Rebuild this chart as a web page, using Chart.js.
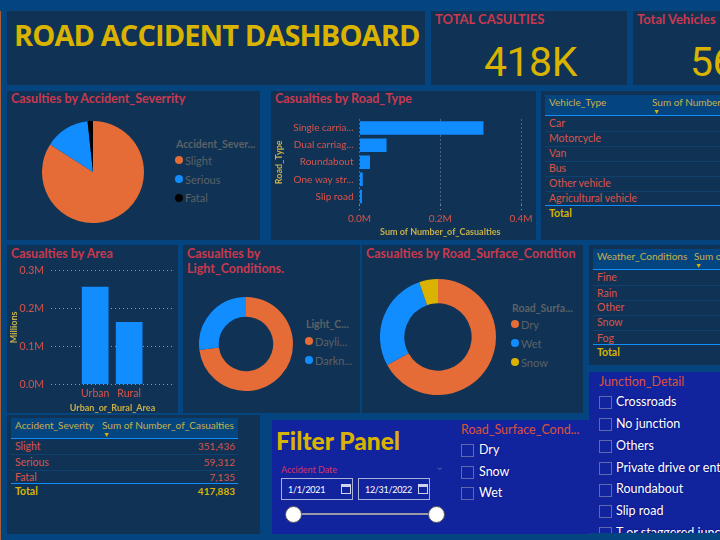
<!DOCTYPE html>
<html>
<head>
<meta charset="utf-8">
<script src="https://cdn.jsdelivr.net/npm/chart.js@4"></script>
<style>
  html, body { margin: 0; padding: 0; }
  body { width: 720px; height: 540px; overflow: hidden; position: relative; background: #05457f; font-family: Lato, sans-serif; }
  .panel { position: absolute; background: #103355; overflow: hidden; }
  .blue { background: #12239e; }
  .txt { position: absolute; white-space: nowrap; line-height: 1; }
  .head { font-weight: 700; color: #c8394f; }
  canvas { position: absolute; }
  .dot { position: absolute; width: 8px; height: 8px; border-radius: 50%; }
  .line { position: absolute; height: 1px; }
  .box { position: absolute; width: 11px; height: 11px; border: 1px solid #5f69ab; }
  .slicer { color: #fff; text-shadow: 0 0 2px #000a70; }
</style>
</head>
<body>
<script>
const severityLabels = ["Slight", "Serious", "Fatal"];
const severityValues = [351436, 59312, 7135];
const severityText = ["351,436", "59,312", "7,135"];
const severityTotal = "417,883";

const roadLabels = ["Single carria...", "Dual carriag...", "Roundabout", "One way str...", "Slip road"];
const roadValues = [0.307, 0.067, 0.026, 0.008, 0.006];
const roadTicks = { 0: "0.0M", 0.2: "0.2M", 0.4: "0.4M" };

const areaLabels = ["Urban", "Rural"];
const areaValues = [0.256, 0.163];

const lightLegend = ["Dayli...", "Darkn..."];
const lightValues = [305000, 112900];

const surfaceLabels = ["Dry", "Wet", "Snow"];
const surfaceValues = [280000, 116000, 22000];

const vehicleLabels = ["Car", "Motorcycle", "Van", "Bus", "Other vehicle", "Agricultural vehicle"];
const weatherLabels = ["Fine", "Rain", "Other", "Snow", "Fog"];
const junctionLabels = ["Crossroads", "No junction", "Others", "Private drive or entrance", "Roundabout", "Slip road", "T or staggered junction"];
const surfaceFilter = ["Dry", "Snow", "Wet"];

const ORANGE = "#e66c37";
const BLUE = "#118dff";
const GOLD = "#d9b300";
const RED = "#d9534a";
const AXIS = "#c9b04a";
const GRID = "#8c9bab";
const FONT = "Lato, sans-serif";

function panel(x, y, right, bottom, cls) {
  const el = document.createElement("div");
  el.className = "panel " + (cls || "");
  el.style.cssText = `left:${x}px;top:${y}px;width:${right - x}px;height:${bottom - y}px`;
  document.body.appendChild(el);
  return el;
}

function text(str, x, y, size, color, extra, parent) {
  const el = document.createElement("div");
  el.className = "txt " + (extra || "");
  el.textContent = str;
  el.style.left = x + "px";
  el.style.top = y - size / 2 + "px";
  el.style.fontSize = size + "px";
  if (color) el.style.color = color;
  (parent || document.body).appendChild(el);
  return el;
}

function rule(x, right, y, color, h) {
  const el = document.createElement("div");
  el.className = "line";
  el.style.cssText = `left:${x}px;top:${y}px;width:${right - x}px;background:${color};height:${h || 1}px`;
  document.body.appendChild(el);
}

function canvas(x, y, w, h) {
  const c = document.createElement("canvas");
  c.width = w;
  c.height = h;
  c.style.cssText = `left:${x}px;top:${y}px;width:${w}px;height:${h}px`;
  document.body.appendChild(c);
  return c;
}

function legend(title, labels, colors, x, ys, titleY) {
  text(title, x - 3, titleY, 10.5, "#5c6166").style.fontWeight = 700;
  labels.forEach((label, i) => {
    const d = document.createElement("div");
    d.className = "dot";
    d.style.cssText = `left:${x - 4}px;top:${ys[i] - 4}px;background:${colors[i]}`;
    document.body.appendChild(d);
    text(label, x + 6, ys[i], 11, "#5c6166");
  });
}

function pie(x, y, r, values, colors, cutout) {
  new Chart(canvas(x - r, y - r, r * 2, r * 2), {
    type: "doughnut",
    data: { datasets: [{ data: values, backgroundColor: colors, borderWidth: 0 }] },
    options: {
      responsive: false,
      animation: false,
      cutout: cutout,
      plugins: { legend: { display: false }, tooltip: { enabled: false } },
    },
  });
}

function table(x, right, headY, headBottom, rowYs, ruleY, totalY, col1, col2, col1x, col2x, rows) {
  const hd = document.createElement("div");
  hd.style.cssText = `position:absolute;left:${x}px;top:${headY}px;width:${right - x}px;height:${headBottom - headY}px;background:#05457f`;
  document.body.appendChild(hd);
  rule(x, right, headBottom, "#118dff");
  text(col1, col1x, headY + 7, 10, AXIS);
  text(col2, col2x, headY + 7, 10, AXIS);
  text("\u25BC", col2x + 1, headBottom - 4, 7, GOLD);
  rows.forEach((label, i) => {
    text(label, col1x, rowYs[i], 10.5, RED);
    if (i < rows.length - 1) rule(x, right, (rowYs[i] + rowYs[i + 1]) / 2, "#0f406e");
  });
  rule(x, right, ruleY, "#118dff");
  text("Total", col1x, totalY, 10.5, GOLD).style.fontWeight = 700;
}

// backgrounds
const edge = document.createElement("div");
edge.style.cssText = "position:absolute;left:0;top:11px;width:1px;height:529px;background:#a5603a";
document.body.appendChild(edge);
panel(7, 11, 425, 85);
panel(431, 11, 627, 85);
panel(633, 11, 720, 85);
panel(7, 91, 260, 240);
panel(271, 91, 536, 240);
panel(541, 91, 720, 240);
panel(7, 245, 178, 413);
panel(183, 245, 360, 413);
panel(362, 245, 583, 413);
panel(589, 245, 720, 365);
panel(7, 415, 260, 534);
panel(272, 420, 589, 534, "blue");
const junction = panel(589, 372, 720, 533, "blue");

// title and cards
const mainTitle = text("ROAD ACCIDENT DASHBOARD", 14, 34, 29, GOLD);
mainTitle.style.fontFamily = "'Open Sans', sans-serif";
mainTitle.style.fontWeight = 700;
mainTitle.style.letterSpacing = "-0.9px";
text("TOTAL CASULTIES", 435, 19, 13, null, "head");
text("Total Vehicles", 637, 19, 13, null, "head");
[["418K", 484], ["56", 690]].forEach(([v, x]) => {
  const el = text(v, x, 62, 41, GOLD);
  el.style.fontFamily = "Roboto, sans-serif";
  el.style.letterSpacing = "-0.5px";
});

// panel headings
text("Casulties by Accident_Severrity", 11, 99, 12.5, null, "head");
text("Casualties by Road_Type", 275, 99, 12.5, null, "head");
text("Casualties by Area", 11, 254, 12.5, null, "head");
text("Casualties by", 187, 254, 12.5, null, "head");
text("Light_Conditions.", 187, 269, 12.5, null, "head");
text("Casualties by Road_Surface_Condtion", 366, 254, 12.5, null, "head");

// severity pie
pie(93, 172, 51, severityValues, [ORANGE, BLUE, "#000000"], 0);
legend("Accident_Sever...", severityLabels, [ORANGE, BLUE, "#000000"], 179, [160, 179, 197.5], 144);

// road type bars
new Chart(canvas(271, 106, 265, 134), {
  type: "bar",
  data: { labels: roadLabels, datasets: [{ data: roadValues, backgroundColor: BLUE, categoryPercentage: 1, barPercentage: 0.79 }] },
  options: {
    indexAxis: "y",
    responsive: false,
    animation: false,
    layout: { padding: { top: 13.5, right: 15, left: 3, bottom: 3 } },
    plugins: { legend: { display: false }, tooltip: { enabled: false } },
    scales: {
      x: {
        min: 0,
        max: 0.4,
        afterFit: (s) => { s.height = 32; },
        border: { display: false, dash: [1, 3] },
        grid: { color: GRID, tickColor: GRID, tickBorderDash: [1, 3], tickLength: 5 },
        ticks: { stepSize: 0.2, color: RED, font: { family: FONT, size: 10 }, padding: 3, maxRotation: 0, callback: (v) => roadTicks[Math.round(v * 10) / 10] },
        title: { display: true, text: "Sum of Number_of_Casualties", color: AXIS, font: { family: FONT, size: 9, weight: "bold" }, padding: 0 },
      },
      y: {
        afterFit: (s) => { s.width = 85.5; },
        border: { display: false },
        grid: { display: false, drawTicks: false },
        ticks: { color: RED, font: { family: FONT, size: 10 }, padding: 6 },
        title: { display: true, text: "Road_Type", color: AXIS, font: { family: FONT, size: 9, weight: "bold" }, padding: 0 },
      },
    },
  },
});

// area bars, x is linear so the two bars can sit close together in the wide plot
new Chart(canvas(7, 257, 171, 156), {
  type: "bar",
  data: { datasets: [{ data: areaValues.map((v, i) => ({ x: i + 1, y: v })), backgroundColor: BLUE, barThickness: 26 }] },
  options: {
    responsive: false,
    animation: false,
    layout: { padding: { top: 7, right: 4, left: 2 } },
    plugins: { legend: { display: false }, tooltip: { enabled: false } },
    scales: {
      x: {
        type: "linear",
        offset: false,
        min: -0.3,
        max: 3.32,
        afterBuildTicks: (s) => { s.ticks = areaLabels.map((_, i) => ({ value: i + 1 })); },
        afterFit: (s) => { s.height = 28.7; },
        border: { display: false },
        grid: { display: false, drawTicks: false },
        ticks: { color: RED, font: { family: FONT, size: 10.5 }, padding: 3, maxRotation: 0, callback: (v) => areaLabels[v - 1] },
        title: { display: true, text: "Urban_or_Rural_Area", color: AXIS, font: { family: FONT, size: 9, weight: "bold" }, padding: 0 },
      },
      y: {
        min: 0,
        max: 0.3,
        afterFit: (s) => { s.width = 42; },
        border: { display: false, dash: [1, 3] },
        grid: { color: GRID, drawTicks: false },
        ticks: { stepSize: 0.1, color: RED, font: { family: FONT, size: 10.5 }, padding: 7, callback: (v) => v.toFixed(1) + "M" },
        title: { display: true, text: "Millions", color: AXIS, font: { family: FONT, size: 9, weight: "bold" }, padding: 0 },
      },
    },
  },
});

// donuts
pie(245.5, 343.7, 47, lightValues, [ORANGE, BLUE], "58%");
legend("Light_C...", lightLegend, [ORANGE, BLUE], 309, [341, 360], 324);
pie(438, 336.5, 58, surfaceValues, [ORANGE, BLUE, GOLD], "58%");
legend("Road_Surfa...", surfaceLabels, [ORANGE, BLUE, GOLD], 515, [324, 343, 362], 308);

// tables
table(545, 720, 95, 115, [123, 138, 153, 168, 183, 198], 205, 213, "Vehicle_Type", "Sum of Number_of_Casualties", 549, 652, vehicleLabels);
table(593, 720, 249, 269, [277, 293, 307, 322, 338], 344, 352, "Weather_Conditions", "Sum of Number_of_Casualties", 597, 694, weatherLabels);
table(11, 238, 418, 438, [446, 462, 477], 483, 491, "Accident_Severity", "Sum of Number_of_Casualties", 15, 102, severityLabels);
severityText.forEach((v, i) => {
  const el = text(v, 0, [446, 462, 477][i], 10, RED);
  el.style.left = "auto";
  el.style.right = 720 - 235 + "px";
});
const totalEl = text(severityTotal, 0, 491, 10, GOLD);
totalEl.style.left = "auto";
totalEl.style.right = 720 - 235 + "px";
totalEl.style.fontWeight = 700;

// filter panel
const filterTitle = text("Filter Panel", 276, 441, 24.5, GOLD);
filterTitle.style.fontWeight = 900;
text("Accident Date", 281, 469, 9, "#d8345f");
text("\u2304", 435, 465, 11, "#4a57b0");
[[281, "1/1/2021"], [358, "12/31/2022"]].forEach(([x, label]) => {
  const b = document.createElement("div");
  b.style.cssText = `position:absolute;left:${x}px;top:478px;width:70px;height:20px;border:1px solid #aab0dc`;
  document.body.appendChild(b);
  text(label, x + 7, 489, 9, "#fff").style.letterSpacing = "-0.3px";
  const cal = document.createElement("div");
  cal.style.cssText = `position:absolute;left:${x + 60}px;top:484px;width:8px;height:6px;border:1px solid #cfd3ee;border-top-width:3px`;
  document.body.appendChild(cal);
});
rule(293, 436, 513, "#9a9aa6", 2);
[293, 436].forEach((x) => {
  const t = document.createElement("div");
  t.style.cssText = `position:absolute;left:${x - 8}px;top:506px;width:15px;height:15px;border-radius:50%;background:#fff;border:1px solid #555`;
  document.body.appendChild(t);
});

// slicers
text("Road_Surface_Cond...", 461, 430, 12.5, "#d9533e");
surfaceFilter.forEach((label, i) => {
  const y = [450, 472, 493][i];
  const b = document.createElement("div");
  b.className = "box";
  b.style.cssText = `left:461px;top:${y - 6}px`;
  document.body.appendChild(b);
  text(label, 479, y, 12.5, null, "slicer");
});

text("Junction_Detail", 10, 10, 12.5, "#d9533e", "", junction);
junctionLabels.forEach((label, i) => {
  const y = [402, 424, 446, 468, 489.5, 511, 533][i] - 372;
  const b = document.createElement("div");
  b.className = "box";
  b.style.cssText = `left:10px;top:${y - 6}px`;
  junction.appendChild(b);
  text(label, 27, y, 12.5, null, "slicer", junction);
});
</script>
</body>
</html>
